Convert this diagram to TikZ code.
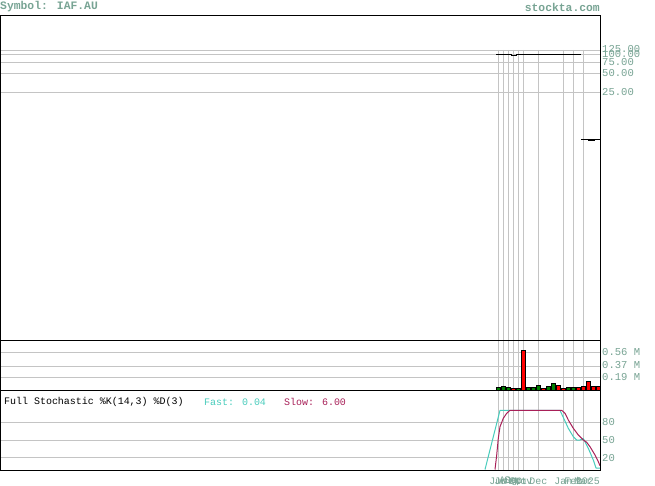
\documentclass[tikz,border=0pt]{standalone}
\usepackage{fontspec}
\newfontfamily\monofont{Liberation Mono}
\definecolor{lblc}{RGB}{120,164,148}
\definecolor{gridc}{RGB}{196,196,196}
\definecolor{fastc}{RGB}{72,204,188}
\definecolor{slowc}{RGB}{168,32,88}
\definecolor{volg}{RGB}{0,128,0}
\definecolor{volr}{RGB}{255,0,0}
\tikzset{
  gridline/.style={draw=gridc,line width=0.8bp},
  framebox/.style={draw=black,line width=1bp},
  axislbl/.style={anchor=west,inner sep=0pt,text=lblc,font=\monofont\fontsize{10.6}{10.6}\selectfont},
  datelbl/.style={anchor=center,inner sep=0pt,text=lblc,font=\monofont\fontsize{10}{10}\selectfont},
  titlelbl/.style={anchor=west,inner sep=0pt,font=\monofont\fontsize{10}{10}\selectfont},
  headlbl/.style={inner sep=0pt,text=lblc,font=\monofont\bfseries\fontsize{11.4}{11.4}\selectfont},
  pricel/.style={draw=black,line width=1bp},
  volbar/.style={draw=black,line width=0.6bp},
  fastl/.style={draw=fastc,line width=1bp,line join=round},
  slowl/.style={draw=slowc,line width=1bp,line join=round}
}
\begin{document}
\begin{tikzpicture}[x=1bp,y=-1bp]
\useasboundingbox (0,0) rectangle (655,486);
\fill[white] (0,0) rectangle (655,486);
% header
\node[headlbl,anchor=west] (sym) at (0,7) {Symbol: IAF.AU};
\node[headlbl,anchor=east] (site) at (600,7) {stockta.com};
% price grid
\foreach \y in {50,54.5,62.5,73,92.3} \draw[gridline] (0,\y) -- (600,\y);
\foreach \x in {498.3,503.3,508.3,513.3,518.3,523.3,538.3,563.3,573.3,583.3} {
  \draw[gridline] (\x,50) -- (\x,340);
  \draw[gridline] (\x,340) -- (\x,390);
  \draw[gridline] (\x,390) -- (\x,470);
}
% volume grid
\foreach \y in {352.3,366,377.7} \draw[gridline] (0,\y) -- (600,\y);
% stoch grid
\foreach \y in {422.3,440,457.7} \draw[gridline] (0,\y) -- (600,\y);
% price line
\draw[pricel] (496,55) -- (511,55) -- (511,56) -- (516,56) -- (516,55) -- (581,55);
\draw[pricel] (581,140) -- (600,140);
\draw[pricel] (588,140.8) -- (595,140.8);
% volume bars
\foreach \i/\c/\t in {0/volg/387.3,1/volg/386.3,2/volg/387.3,3/volr/388.3,4/volg/388.3,5/volr/350.3,6/volg/387.3,7/volg/387.3,8/volg/385.3,9/volr/388.3,10/volg/386.3,11/volg/383.3,12/volr/385.5,13/volr/388.5,14/volg/387.5,15/volg/387.5,16/volr/387.5,17/volr/386.3,18/volr/381.3,19/volr/386.3,20/volr/386.3} {
  \filldraw[volbar,fill=\c] ({496.5+5*\i},390) rectangle ({min(500.5+5*\i,600)},\t);
}
% stochastic lines
\draw[fastl] (485,469.5) -- (500,410.3) -- (560,410.3) -- (568.3,428.3) -- (573.3,436.7) -- (576.7,440) -- (580,440) -- (583.3,438.5) -- (588.3,448.3) -- (593.3,460) -- (596,468) -- (600,468);
\draw[slowl] (495,469.5) -- (496.7,455) -- (498.3,438.3) -- (500,426.7) -- (503.3,418.3) -- (506.7,413.3) -- (510,410.3) -- (561.7,410.3) -- (565,413.3) -- (568.3,420) -- (573.3,428.3) -- (578.3,435) -- (583.3,440) -- (586.7,442.3) -- (590,446.7) -- (595,455) -- (598.3,461.7) -- (600,465.7);
% frames
\draw[framebox] (0.5,15.5) rectangle (600.5,470.5);
\draw[framebox] (0.5,340.5) -- (600.5,340.5);
\draw[framebox] (0.5,390.5) -- (600.5,390.5);
% price labels
\node[axislbl] (p125) at (602,49.5) {125.00};
\node[axislbl] (p100) at (602,54.5) {100.00};
\node[axislbl] (p75) at (602,62.5) {75.00};
\node[axislbl] (p50) at (602,73) {50.00};
\node[axislbl] (p25) at (602,92.3) {25.00};
% volume labels
\node[axislbl] (v56) at (602,352) {0.56 M};
\node[axislbl] (v37) at (602,365) {0.37 M};
\node[axislbl] (v19) at (602,377.5) {0.19 M};
% stoch labels
\node[axislbl] (s80) at (602,422.3) {80};
\node[axislbl] (s50) at (602,440) {50};
\node[axislbl] (s20) at (602,457.7) {20};
% stoch title
\node[titlelbl] (st) at (4,402) {Full Stochastic \%K(14,3) \%D(3)};
\node[titlelbl,text=fastc] (sf) at (204,402) {Fast: 0.04};
\node[titlelbl,text=slowc] (ss) at (284,402) {Slow: 6.00};
% date labels
\node[datelbl] (d1) at (498.3,481) {Jun};
\node[datelbl] (d2) at (503.3,481) {Jul};
\node[datelbl] (d3) at (508.3,481) {Aug};
\node[datelbl] (d4) at (513.3,481) {Sep};
\node[datelbl] (d5) at (518.3,481) {Oct};
\node[datelbl] (d6) at (523.3,481) {Nov};
\node[datelbl] (d7) at (538.3,481) {Dec};
\node[datelbl] (d8) at (563.3,481) {Jan};
\node[datelbl] (d9) at (573.3,481) {Feb};
\node[datelbl] (d10) at (583.3,481) {Mar};
\node[datelbl,anchor=east] (d11) at (600,481) {2025};
\end{tikzpicture}
\end{document}
